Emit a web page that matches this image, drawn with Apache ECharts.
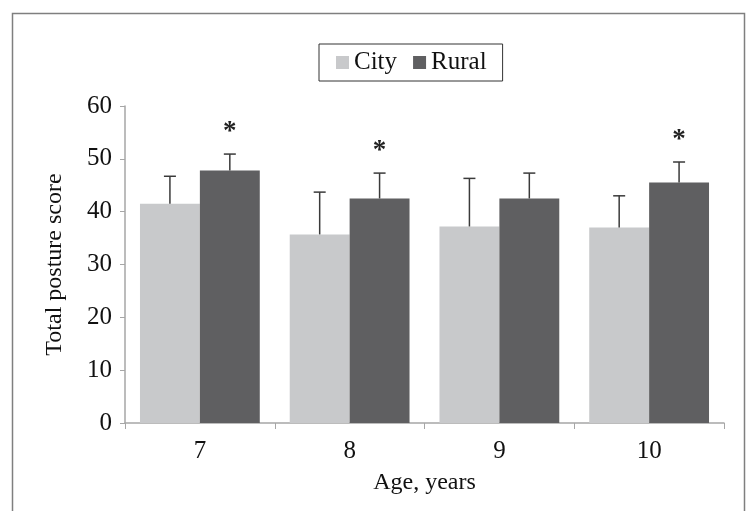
<!DOCTYPE html>
<html>
<head>
<meta charset="utf-8">
<style>
  html, body { margin: 0; padding: 0; background: #fff; }
  #main { width: 746px; height: 511px; }
</style>
<script src="https://cdn.jsdelivr.net/npm/echarts@6/dist/echarts.min.js"></script>
</head>
<body>
<div id="main"></div>
<script>
// data
var ages = ['7', '8', '9', '10'];
var cityMean = [41.5, 35.7, 37.2, 37.0];
var citySD = [5.2, 8.0, 9.1, 6.0];
var ruralMean = [47.8, 42.5, 42.5, 45.5];
var ruralSD = [3.1, 4.8, 4.8, 3.9];
var significant = [true, true, false, true];
var yTicks = [0, 10, 20, 30, 40, 50, 60];

var font = '"Liberation Serif", "Times New Roman", serif';
var cityColor = '#c8c9cb';
var ruralColor = '#5f5f61';

// error bar rows: [categoryIndex, mean, sd, star]
function errRows(mean, sd, star) {
    return mean.map(function (m, i) {
        return [i, m, sd[i], star ? (star[i] ? 1 : 0) : 0];
    });
}

function errorBar(side) {
    return function (params, api) {
        var i = api.value(0);
        var top = api.value(1) + api.value(2);
        var base = api.coord([i, api.value(1)]);
        var tip = api.coord([i, top]);
        var catW = api.size([1, 0])[0];
        var x = base[0] + side * catW * 0.2;
        var children = [
            { type: 'line', shape: { x1: x, y1: base[1], x2: x, y2: tip[1] },
              style: { stroke: '#3a3a3a', lineWidth: 1.5 } },
            { type: 'line', shape: { x1: x - 6, y1: tip[1], x2: x + 6, y2: tip[1] },
              style: { stroke: '#3a3a3a', lineWidth: 1.5 } }
        ];
        if (api.value(3)) {
            children.push({
                type: 'text',
                style: { text: '*', x: x, y: tip[1] - 22, align: 'center', verticalAlign: 'middle',
                         font: 'bold 27px ' + font, fill: '#222' }
            });
        }
        return { type: 'group', children: children };
    };
}

var myChart = echarts.init(document.getElementById('main'));
myChart.setOption({
    animation: false,
    textStyle: { fontFamily: font },
    graphic: [{
        type: 'rect',
        shape: { x: 12.5, y: 13.5, width: 732, height: 520 },
        style: { fill: 'none', stroke: '#7f7f7f', lineWidth: 1.5 },
        silent: true
    }],
    legend: {
        data: ['City', 'Rural'],
        left: 319,
        top: 44,
        padding: [6, 16, 6, 17],
        borderColor: '#333',
        borderWidth: 1,
        icon: 'rect',
        itemWidth: 13,
        itemHeight: 13,
        itemGap: 16,
        textStyle: { fontFamily: font, fontSize: 25, color: '#111' }
    },
    grid: { left: 125, right: 22, top: 106, bottom: 88 },
    xAxis: {
        type: 'category',
        data: ages,
        name: 'Age, years',
        nameLocation: 'middle',
        nameGap: 48,
        nameTextStyle: { fontFamily: font, fontSize: 24, color: '#111' },
        axisLine: { lineStyle: { color: '#a6a6a6', width: 1.5 } },
        axisTick: { show: true, length: 6, lineStyle: { color: '#a6a6a6' } },
        axisLabel: { margin: 16, fontFamily: font, fontSize: 25, color: '#111' }
    },
    yAxis: {
        type: 'value',
        min: yTicks[0],
        max: yTicks[yTicks.length - 1],
        interval: 10,
        name: 'Total posture score',
        nameLocation: 'middle',
        nameGap: 58,
        nameTextStyle: { fontFamily: font, fontSize: 24, color: '#111' },
        axisLine: { show: true, lineStyle: { color: '#a6a6a6', width: 1.5 } },
        axisTick: { show: true, length: 5, lineStyle: { color: '#a6a6a6' } },
        axisLabel: { margin: 13, fontFamily: font, fontSize: 25, color: '#111' },
        splitLine: { show: false }
    },
    series: [
        { name: 'City', type: 'bar', data: cityMean, barGap: 0, barCategoryGap: '20%',
          itemStyle: { color: cityColor } },
        { name: 'Rural', type: 'bar', data: ruralMean, barGap: 0, barCategoryGap: '20%',
          itemStyle: { color: ruralColor } },
        { name: 'cityErr', type: 'custom', renderItem: errorBar(-1),
          data: errRows(cityMean, citySD, null), z: 5 },
        { name: 'ruralErr', type: 'custom', renderItem: errorBar(1),
          data: errRows(ruralMean, ruralSD, significant), z: 5 }
    ]
});
</script>
</body>
</html>
